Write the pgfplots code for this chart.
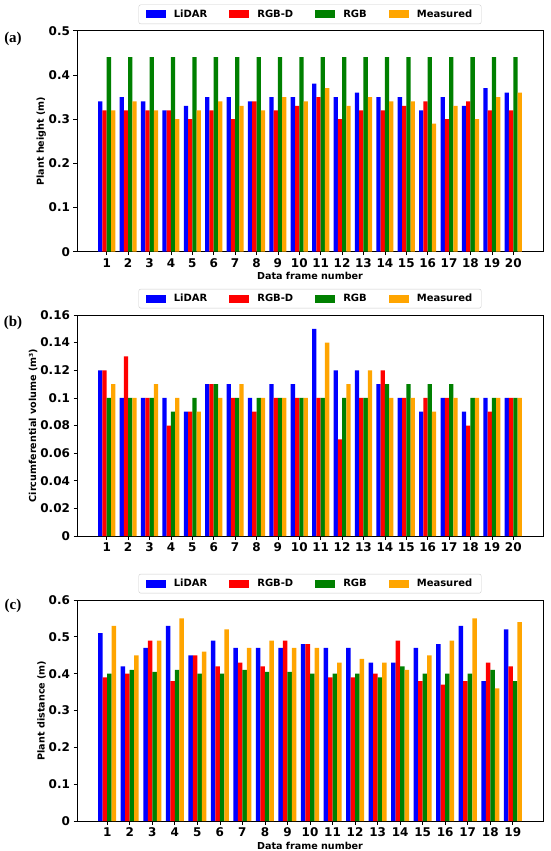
\documentclass[border=0pt]{standalone}
\usepackage{pgfplots}
\pgfplotsset{compat=1.18}
\usepackage{pgfplotstable}
\usepackage{fontspec}
\setmainfont{DejaVu Sans}
\newfontfamily\serifb{Liberation Serif}
\definecolor{mgreen}{RGB}{0,128,0}
\definecolor{morange}{RGB}{255,165,0}
\definecolor{lgray}{gray}{0.8}

\pgfplotstableread{
x l d g m
1 0.34 0.32 0.44 0.32
2 0.35 0.32 0.44 0.34
3 0.34 0.32 0.44 0.32
4 0.32 0.32 0.44 0.30
5 0.33 0.30 0.44 0.32
6 0.35 0.32 0.44 0.34
7 0.35 0.30 0.44 0.33
8 0.34 0.34 0.44 0.32
9 0.35 0.32 0.44 0.35
10 0.35 0.33 0.44 0.34
11 0.38 0.35 0.44 0.37
12 0.35 0.30 0.44 0.33
13 0.36 0.32 0.44 0.35
14 0.35 0.32 0.44 0.34
15 0.35 0.33 0.44 0.34
16 0.32 0.34 0.44 0.29
17 0.35 0.30 0.44 0.33
18 0.33 0.34 0.44 0.30
19 0.37 0.32 0.44 0.35
20 0.36 0.32 0.44 0.36
}\dataA

\pgfplotstableread{
x l d g m
1 0.12 0.12 0.10 0.11
2 0.10 0.13 0.10 0.10
3 0.10 0.10 0.10 0.11
4 0.10 0.08 0.09 0.10
5 0.09 0.09 0.10 0.09
6 0.11 0.11 0.11 0.10
7 0.11 0.10 0.10 0.11
8 0.10 0.09 0.10 0.10
9 0.11 0.10 0.10 0.10
10 0.11 0.10 0.10 0.10
11 0.15 0.10 0.10 0.14
12 0.12 0.07 0.10 0.11
13 0.12 0.10 0.10 0.12
14 0.11 0.12 0.11 0.10
15 0.10 0.10 0.11 0.10
16 0.09 0.10 0.11 0.09
17 0.10 0.10 0.11 0.10
18 0.09 0.08 0.10 0.10
19 0.10 0.09 0.10 0.10
20 0.10 0.10 0.10 0.10
}\dataB

\pgfplotstableread{
x l d g m
1 0.51 0.39 0.40 0.53
2 0.42 0.40 0.41 0.45
3 0.47 0.49 0.405 0.49
4 0.53 0.38 0.41 0.55
5 0.45 0.45 0.40 0.46
6 0.49 0.42 0.40 0.52
7 0.47 0.43 0.41 0.47
8 0.47 0.42 0.405 0.49
9 0.47 0.49 0.405 0.47
10 0.48 0.48 0.40 0.47
11 0.47 0.39 0.40 0.43
12 0.47 0.39 0.40 0.44
13 0.43 0.40 0.39 0.43
14 0.43 0.49 0.42 0.41
15 0.47 0.38 0.40 0.45
16 0.48 0.37 0.40 0.49
17 0.53 0.38 0.40 0.55
18 0.38 0.43 0.41 0.36
19 0.52 0.42 0.38 0.54
}\dataC

\pgfplotsset{
  mybar/.style={ybar, bar width=0.2, draw=none, fill=#1,
    legend image code/.code={\fill[#1, sharp corners] (0pt,-4pt) rectangle (20pt,4pt);}},
  panel/.style={
    scale only axis, width=466pt, height=221pt,
    anchor=south west,
    ymin=0,
    tick align=outside, xtick pos=bottom, ytick pos=left,
    major tick length=3.5pt,
    tick style={black, line width=0.7pt},
    axis line style={line width=0.8pt},
    ticklabel style={font=\bfseries\fontsize{12}{14}\selectfont},
    /pgf/number format/assume math mode=true,
    label style={font=\bfseries\fontsize{9.6}{11}\selectfont},
    xlabel style={yshift=2pt},
    ylabel shift=-4pt,
    legend style={at={(0.5,1.03)}, anchor=south, legend columns=4,
      draw=lgray, rounded corners=2pt, fill=white,
      font=\bfseries\fontsize{10}{12}\selectfont,
      /tikz/every even column/.append style={column sep=20pt},
      /tikz/every odd column/.append style={column sep=6pt},
      inner xsep=7pt, inner ysep=3pt},
  }
}

\begin{document}
\begin{tikzpicture}
\useasboundingbox (0,0) rectangle (550pt,-851pt);

% (a)
\begin{axis}[panel, at={(77pt,-251.7pt)},
  xmin=-0.39, xmax=21.39, ymax=0.5,
  xtick={1,...,20},
  ytick={0,0.1,0.2,0.3,0.4,0.5},
  yticklabels={0,0.1,0.2,0.3,0.4,0.5},
  ylabel={Plant height (m)},
  xlabel={Data frame number}]
\addplot[mybar=blue, bar shift=-0.3] table[x=x,y=l]{\dataA};
\addplot[mybar=red, bar shift=-0.1] table[x=x,y=d]{\dataA};
\addplot[mybar=mgreen, bar shift=0.1] table[x=x,y=g]{\dataA};
\addplot[mybar=morange, bar shift=0.3] table[x=x,y=m]{\dataA};
\legend{LiDAR,RGB-D,RGB,Measured}
\end{axis}

% (b)
\begin{axis}[panel, at={(77pt,-536pt)},
  xmin=-0.39, xmax=21.39, ymax=0.16,
  xtick={1,...,20},
  ytick={0,0.02,0.04,0.06,0.08,0.1,0.12,0.14,0.16},
  yticklabels={0,0.02,0.04,0.06,0.08,0.1,0.12,0.14,0.16},
  ylabel={Circumferential volume (m³)}]
\addplot[mybar=blue, bar shift=-0.3] table[x=x,y=l]{\dataB};
\addplot[mybar=red, bar shift=-0.1] table[x=x,y=d]{\dataB};
\addplot[mybar=mgreen, bar shift=0.1] table[x=x,y=g]{\dataB};
\addplot[mybar=morange, bar shift=0.3] table[x=x,y=m]{\dataB};
\legend{LiDAR,RGB-D,RGB,Measured}
\end{axis}

% (c)
\begin{axis}[panel, at={(77pt,-821pt)},
  xmin=-0.34, xmax=20.34, ymax=0.6,
  xtick={1,...,19},
  ytick={0,0.1,0.2,0.3,0.4,0.5,0.6},
  yticklabels={0,0.1,0.2,0.3,0.4,0.5,0.6},
  ylabel={Plant distance (m)},
  xlabel={Data frame number}]
\addplot[mybar=blue, bar shift=-0.3] table[x=x,y=l]{\dataC};
\addplot[mybar=red, bar shift=-0.1] table[x=x,y=d]{\dataC};
\addplot[mybar=mgreen, bar shift=0.1] table[x=x,y=g]{\dataC};
\addplot[mybar=morange, bar shift=0.3] table[x=x,y=m]{\dataC};
\legend{LiDAR,RGB-D,RGB,Measured}
\end{axis}

\node[font=\serifb\bfseries\fontsize{15}{17}\selectfont] at (13pt,-39pt) {(a)};
\node[font=\serifb\bfseries\fontsize{15}{17}\selectfont] at (13pt,-323pt) {(b)};
\node[font=\serifb\bfseries\fontsize{15}{17}\selectfont] at (13pt,-606pt) {(c)};
\end{tikzpicture}
\end{document}
